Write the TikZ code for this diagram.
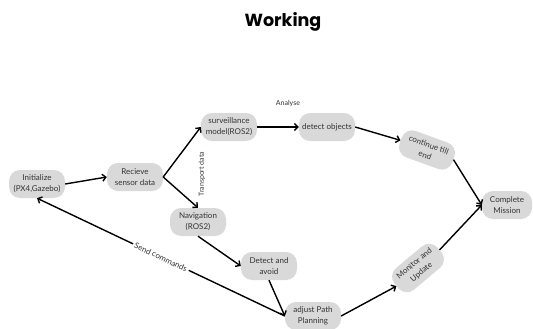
\documentclass[tikz,border=0pt]{standalone}
\usepackage{fontspec}
\setmainfont{Lato}
\newfontfamily\titlefont{Poppins}
\usetikzlibrary{arrows.meta}
\definecolor{boxgray}{HTML}{D9D9D9}
\definecolor{txtgray}{HTML}{333333}
\tikzset{
  stepbox/.style={fill=boxgray, rounded corners=11pt, minimum width=56pt, minimum height=28pt,
    inner sep=1pt, align=center, text=txtgray, font=\fontsize{8}{11}\selectfont},
  flow/.style={line width=1.4pt, -{Straight Barb[length=3.5pt,width=7pt,line width=1.4pt]}},
  lbl/.style={text=txtgray, font=\fontsize{7}{8}\selectfont, inner sep=1pt}
}
\begin{document}
\begin{tikzpicture}[x=1pt,y=-1pt]
\path[use as bounding box, fill=white] (0,0) rectangle (533,329);
\node (title) at (283,22) {\titlefont\bfseries\fontsize{17.5}{20}\selectfont Working};
\node[lbl] (analyse) at (288,104) {Analyse};

\node[stepbox] (init) at (37,184) {Initialize\\(PX4,Gazebo)};
\node[stepbox] (recv) at (135,177) {Recieve\\sensor data};
\node[stepbox] (surv) at (229,127) {surveillance\\model(ROS2)};
\node[stepbox] (detobj) at (327,127) {detect objects};
\node[stepbox, rotate=-20] (cont) at (427,150) {continue till\\end};
\node[stepbox, minimum width=50pt] (comp) at (507,205) {Complete\\Mission};
\node[stepbox] (nav) at (198,222) {Navigation\\(ROS2)};
\node[stepbox] (avoid) at (269,266) {Detect and\\avoid};
\node[stepbox] (adjust) at (313,316) {adjust Path\\Planning};
\node[stepbox, rotate=40] (mon) at (418,268) {Monitor and\\Update};

\node[lbl, rotate=90] (transport) at (202,174) {Transport data};

\draw[flow] (init.east) -- (recv.west);
\draw[flow] (recv.east) -- (surv.west);
\draw[flow] (recv.east) -- (nav.north);
\draw[flow] (surv.east) -- (detobj.west);
\draw[flow] (detobj.east) -- (cont.west);
\draw[flow] (cont.east) -- (comp.west);
\draw[flow] (mon.east) -- (comp.west);
\draw[flow] (nav.south) -- (avoid.west);
\draw[flow] (avoid.south) -- (adjust.west);
\draw[flow] (adjust.east) -- (mon.west);
\draw[flow] (adjust.west) -- node[lbl, sloped, fill=white, font=\fontsize{8}{9}\selectfont, inner sep=2pt] (send) {Send commands} (init.south);
\end{tikzpicture}
\end{document}
